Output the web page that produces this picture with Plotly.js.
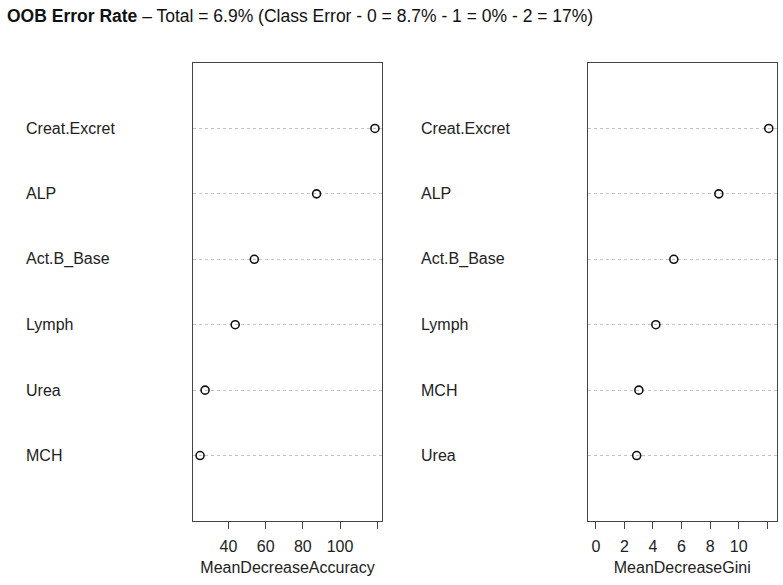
<!DOCTYPE html>
<html>
<head>
<meta charset="utf-8">
<script src="https://cdn.plot.ly/plotly-3.0.1.min.js"></script>
<style>html,body{margin:0;padding:0;background:#fff;}#chart{width:783px;height:585px;}</style>
</head>
<body>
<div id="chart"></div>
<script>
// Data (top to bottom)
var accLabels = ["Creat.Excret", "ALP", "Act.B_Base", "Lymph", "Urea", "MCH"];
var accValues = [118.8, 87.4, 53.9, 43.6, 27.4, 24.7];
var giniLabels = ["Creat.Excret", "ALP", "Act.B_Base", "Lymph", "MCH", "Urea"];
var giniValues = [12.11, 8.61, 5.46, 4.20, 3.01, 2.86];
var accTickVals = [40, 60, 80, 100, 120];
var accTickText = ["40", "60", "80", "100", ""];
var giniTickVals = [0, 2, 4, 6, 8, 10, 12];
var giniTickText = ["0", "2", "4", "6", "8", "10", ""];
var titleBold = "OOB Error Rate";
var titleRest = " – Total = 6.9% (Class Error - 0 = 8.7% - 1 = 0% - 2 = 17%)";

var n = accLabels.length;
function rowPos(i) { return n - i; }
var accY = accLabels.map(function (_, i) { return rowPos(i); });
var giniY = giniLabels.map(function (_, i) { return rowPos(i); });

var font = "Liberation Sans, Arial, sans-serif";
var ink = "#222";
var marker = { symbol: "circle-open", size: 8, color: "#111", line: { width: 1.6, color: "#111" } };

var traces = [
  { x: accValues, y: accY, type: "scatter", mode: "markers", marker: marker, xaxis: "x", yaxis: "y", hoverinfo: "x+text", text: accLabels },
  { x: giniValues, y: giniY, type: "scatter", mode: "markers", marker: marker, xaxis: "x2", yaxis: "y2", hoverinfo: "x+text", text: giniLabels }
];

var yDomain = [1 - 521 / 585, 1 - 63 / 585];
function xax(domain, range, tv, tt, title) {
  return {
    domain: domain, range: range, tickmode: "array", tickvals: tv, ticktext: tt,
    ticks: "outside", ticklen: 7, tickwidth: 1, tickcolor: "#444",
    ticklabelstandoff: 4,
    showline: true, linecolor: "#444", linewidth: 1, mirror: true,
    showgrid: false, zeroline: false,
    tickfont: { family: font, size: 16, color: ink },
    title: { text: title, font: { family: font, size: 16, color: ink }, standoff: 7 }
  };
}
function yax(domain, anchor) {
  return {
    domain: domain, range: [0, n + 1], anchor: anchor,
    tickmode: "array", tickvals: accY, showticklabels: false, ticks: "",
    showgrid: true, gridcolor: "#c4c4c4", griddash: "dot", gridwidth: 1,
    showline: true, linecolor: "#444", linewidth: 1, mirror: true, zeroline: false
  };
}

var annotations = [];
accLabels.forEach(function (lab, i) {
  annotations.push({ text: lab, xref: "paper", yref: "y", x: 24 / 783, y: accY[i], xanchor: "left", yanchor: "middle", showarrow: false, font: { family: font, size: 16, color: ink } });
});
giniLabels.forEach(function (lab, i) {
  annotations.push({ text: lab, xref: "paper", yref: "y2", x: 419 / 783, y: giniY[i], xanchor: "left", yanchor: "middle", showarrow: false, font: { family: font, size: 16, color: ink } });
});
annotations.push({ text: "<b>" + titleBold + "</b>" + titleRest, xref: "paper", yref: "paper", x: 5 / 783, y: 1 - 16 / 585, xanchor: "left", yanchor: "middle", showarrow: false, font: { family: font, size: 17.5, color: "#111" } });

var layout = {
  width: 783, height: 585,
  margin: { l: 0, r: 0, t: 0, b: 0 },
  paper_bgcolor: "#fff", plot_bgcolor: "#fff",
  showlegend: false,
  xaxis: xax([193 / 783, 382 / 783], [20.9, 122.6], accTickVals, accTickText, "MeanDecreaseAccuracy"),
  yaxis: yax(yDomain, "x"),
  xaxis2: Object.assign(xax([588 / 783, 776.5 / 783], [-0.55, 12.65], giniTickVals, giniTickText, "MeanDecreaseGini"), { anchor: "y2" }),
  yaxis2: yax(yDomain, "x2"),
  annotations: annotations
};
layout.xaxis.anchor = "y";

Plotly.newPlot("chart", traces, layout, { displayModeBar: false, staticPlot: true });
</script>
</body>
</html>
